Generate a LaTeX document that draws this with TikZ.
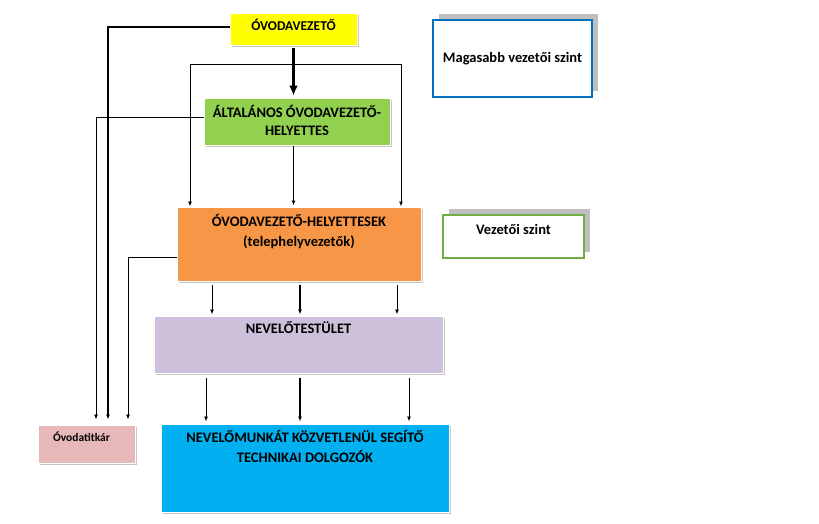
\documentclass[tikz,border=0pt]{standalone}
\usepackage{fontspec}
\setmainfont{Carlito}
\usetikzlibrary{arrows.meta,shadows}

\definecolor{vezyellow}{HTML}{FFFF00}
\definecolor{altgreen}{HTML}{92D050}
\definecolor{helyorange}{HTML}{F79646}
\definecolor{testpurple}{HTML}{CCC0DA}
\definecolor{techblue}{HTML}{00B0F0}
\definecolor{titkpink}{HTML}{E6B9B8}
\definecolor{magblue}{HTML}{0070C0}
\definecolor{vszgreen}{HTML}{70AD47}

\tikzset{
  box/.style={rectangle, draw=white, line width=1pt, inner sep=0pt,
    drop shadow={shadow xshift=1.5pt, shadow yshift=-1.5pt, fill=black!22, opacity=1}},
  boxtext/.style={anchor=north, align=center, inner sep=0pt,
    font=\bfseries\fontsize{14.5}{20}\selectfont},
  legend/.style={rectangle, fill=white, line width=2.2pt, inner sep=0pt,
    font=\bfseries\fontsize{14.5}{17}\selectfont,
    drop shadow={shadow xshift=6pt, shadow yshift=6pt, fill=black!25, opacity=1}},
  arr/.style={-{Latex[length=5pt,width=4pt]}, line width=0.9pt},
}

\begin{document}
\begin{tikzpicture}[x=1pt, y=-1pt]
  \useasboundingbox (0,0) rectangle (819,523);
  % Boxes of the hierarchy
  \node[box, fill=vezyellow, minimum width=127pt, minimum height=32pt,
    label={[boxtext, font=\bfseries\fontsize{13.5}{16}\selectfont, yshift=-6pt]north:ÓVODAVEZETŐ}] (vez) at (293.5,29) {};
  \node[box, fill=altgreen, minimum width=186pt, minimum height=47pt,
    label={[boxtext, font=\bfseries\fontsize{14.5}{18}\selectfont, yshift=-8pt]north:ÁLTALÁNOS ÓVODAVEZETŐ-\\HELYETTES}] (alt) at (297,121.5) {};
  \node[box, fill=helyorange, minimum width=244pt, minimum height=74pt,
    label={[boxtext, yshift=-8pt]north:ÓVODAVEZETŐ-HELYETTESEK\\(telephelyvezetők)}] (hely) at (299,244) {};
  \node[box, fill=testpurple, minimum width=289pt, minimum height=57pt,
    label={[boxtext, yshift=-6pt]north:NEVELŐTESTÜLET}] (test) at (298.5,344.5) {};
  \node[box, fill=techblue, minimum width=288pt, minimum height=88pt,
    label={[boxtext, yshift=-7pt]north:NEVELŐMUNKÁT KÖZVETLENÜL SEGÍTŐ\\TECHNIKAI DOLGOZÓK}] (tech) at (305,468) {};
  \node[box, fill=titkpink, minimum width=97pt, minimum height=38pt,
    label={[boxtext, font=\bfseries\fontsize{11.5}{13}\selectfont, xshift=-5pt, yshift=-7pt]north:Óvodatitkár}] (titk) at (86.5,444) {};
  % Legend
  \node[legend, draw=magblue, minimum width=159pt, minimum height=77pt] (mag) at (512.5,58.5) {Magasabb vezetői szint};
  \node[legend, draw=vszgreen, minimum width=141pt, minimum height=43pt,
    label={[boxtext, yshift=-10pt]north:Vezetői szint}] (vsz) at (513.5,236.5) {};
  % Arrows down the middle
  \draw[-{Latex[length=10pt,width=9pt]}, line width=2.6pt, shorten <=2pt, shorten >=2pt] (vez.south) -- (vez.south |- alt.north);
  \coordinate (fork) at (vez.south |- 0,64);
  \foreach \side in {190,401}
    \draw[arr] (fork) -| (\side,64 |- hely.north);
  \draw[arr, line width=1.3pt, shorten >=1pt] (vez.south |- alt.south) -- (vez.south |- hely.north);
  \foreach \x/\w in {212/0.9,300/1.5,397/0.9}
    \draw[arr, line width=\w pt, shorten <=3pt, shorten >=1pt] (hely.south -| \x,0) -- (test.north -| \x,0);
  \foreach \x/\w in {206/0.9,300/1.5,409/0.9}
    \draw[arr, line width=\w pt, shorten <=4pt, shorten >=2pt] (test.south -| \x,0) -- (tech.north -| \x,0);
  % Lines to the secretary
  \draw[arr, line width=1.6pt, shorten >=5pt] ([yshift=2pt]vez.west) -| ([xshift=21.5pt]titk.north);
  \draw[arr, shorten >=5pt] ([yshift=4.5pt]alt.west) -| ([xshift=9.5pt]titk.north);
  \draw[arr, shorten >=5pt] ([yshift=-13pt]hely.west) -| ([xshift=41.5pt]titk.north);
\end{tikzpicture}
\end{document}
